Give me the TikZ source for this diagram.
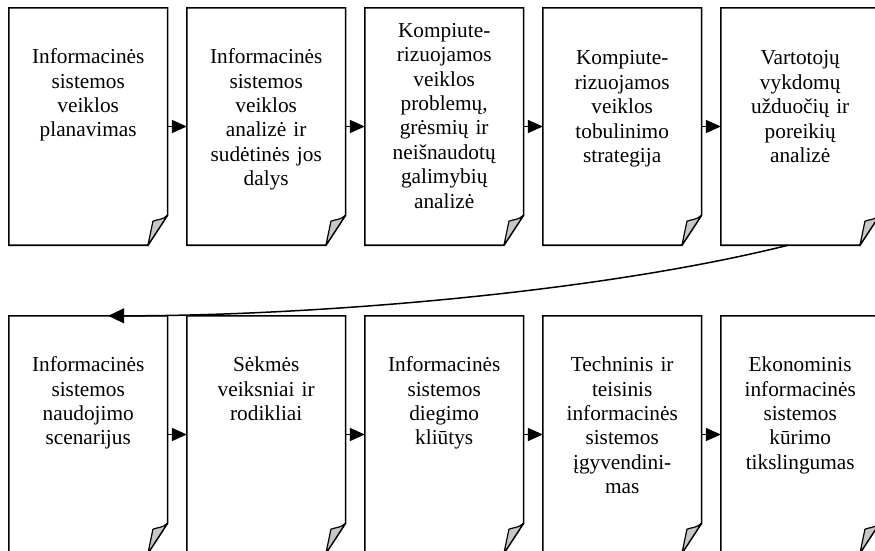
\documentclass[tikz,border=0pt]{standalone}
\usepackage{fontspec}
\setmainfont{Liberation Serif}
\usetikzlibrary{arrows.meta}
\begin{document}
\begin{tikzpicture}[x=1pt, y=-1pt,
  docbox/.style={rectangle, minimum width=158.3pt, minimum height=237pt, inner sep=0pt},
  docline/.style={line width=1.6pt, line join=miter},
  foldfill/.style={line width=1.2pt, fill=black!22, line join=round},
  doctext/.style={anchor=base, text width=156pt, align=center, inner sep=0pt,
    font=\fontsize{21.3}{24.4}\selectfont},
  flow/.style={line width=1.5pt, -{Triangle[length=15pt, width=13pt]}},
  backflow/.style={line width=1.5pt, -{Triangle[length=16pt, width=15pt]}}]
  \useasboundingbox (0,0) rectangle (875,550);

  % document shapes, two rows of five
  \foreach \n/\cx/\cy in {b1/88.2/126.5, b2/266.2/126.5, b3/444.2/126.5, b4/622.2/126.5, b5/800.2/126.5,
                          b6/88.2/434.5, b7/266.2/434.5, b8/444.2/434.5, b9/622.2/434.5, b10/800.2/434.5}
    \node[docbox] (\n) at (\cx,\cy) {};

  % outlines with a curled lower right corner
  \foreach \n in {b1,b2,b3,b4,b5,b6,b7,b8,b9,b10} {
    \draw[docline] (\n.north west) -- (\n.north east) -- ([yshift=30pt]\n.south east)
      -- ([xshift=-19.6pt]\n.south east) -- (\n.south west) -- cycle;
    \draw[foldfill] ([yshift=30pt]\n.south east)
      .. controls ([xshift=-5pt, yshift=25pt]\n.south east) and ([xshift=-10pt, yshift=26pt]\n.south east)
      .. ([xshift=-14.6pt, yshift=24pt]\n.south east)
      -- ([xshift=-19.6pt]\n.south east) -- cycle;
  }

  % labels
  \node[doctext] (t1) at ([yshift=-55.8pt]b1.north) {Informacinės\\sistemos\\veiklos\\planavimas};
  \node[doctext] (t2) at ([yshift=-55.8pt]b2.north) {Informacinės\\sistemos\\veiklos\\analizė ir\\sudėtinės jos\\dalys};
  \node[doctext] (t3) at ([yshift=-29.5pt]b3.north) {Kompiute-\\rizuojamos\\veiklos\\problemų,\\grėsmių ir\\neišnaudotų\\galimybių\\analizė};
  \node[doctext] (t4) at ([yshift=-57pt]b4.north) {Kompiute-\\rizuojamos\\veiklos\\tobulinimo\\strategija};
  \node[doctext] (t5) at ([yshift=-57pt]b5.north) {Vartotojų\\vykdomų\\užduočių ir\\poreikių\\analizė};
  \node[doctext] (t6) at ([yshift=-55.8pt]b6.north) {Informacinės\\sistemos\\naudojimo\\scenarijus};
  \node[doctext] (t7) at ([yshift=-55.8pt]b7.north) {Sėkmės\\veiksniai ir\\rodikliai};
  \node[doctext] (t8) at ([yshift=-55.8pt]b8.north) {Informacinės\\sistemos\\diegimo\\kliūtys};
  \node[doctext] (t9) at ([yshift=-55.8pt]b9.north) {Techninis ir\\teisinis\\informacinės\\sistemos\\įgyvendini-\\mas};
  \node[doctext] (t10) at ([yshift=-55.8pt]b10.north) {Ekonominis\\informacinės\\sistemos\\kūrimo\\tikslingumas};

  % connectors along each row
  \draw[flow] (b1.east) -- (b2.west);
  \draw[flow] (b2.east) -- (b3.west);
  \draw[flow] (b3.east) -- (b4.west);
  \draw[flow] (b4.east) -- (b5.west);
  \draw[flow] (b6.east) -- (b7.west);
  \draw[flow] (b7.east) -- (b8.west);
  \draw[flow] (b8.east) -- (b9.west);
  \draw[flow] (b9.east) -- (b10.west);

  % return connector from the first row to the second
  \coordinate (from5) at ([xshift=-12pt]b5.south);
  \coordinate (to6) at ([xshift=20pt]b6.north);
  \draw[backflow] (from5) .. controls (588,295) and (300,316) .. (to6);
\end{tikzpicture}
\end{document}
